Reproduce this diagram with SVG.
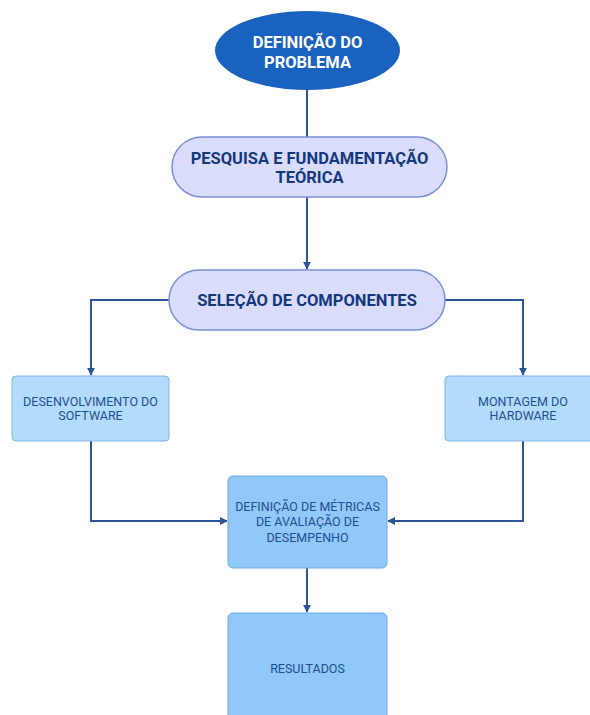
<svg xmlns="http://www.w3.org/2000/svg" width="590" height="715" viewBox="0 0 590 715">
<style>
.conn{fill:none;stroke:#2b5597;stroke-width:2}
.pill{fill:#d9dcfb;stroke:#7a8fd9;stroke-width:1.5}
.box1{fill:#b3dbfb;stroke:#7fb6ec;stroke-width:1}
.box2{fill:#90c8f8;stroke:#6aaae8;stroke-width:1}
.t{font-family:Roboto,"Liberation Sans",sans-serif;text-anchor:middle}
.tb{font-weight:bold;fill:#15387a;font-size:16.5px}
.tn{fill:#1f4f8f;font-size:12.5px}
.tw{font-weight:bold;fill:#ffffff;font-size:16.5px}
</style>
<defs>
<marker id="ah" viewBox="0 0 10 10" refX="9" refY="5" markerWidth="4" markerHeight="4" orient="auto">
<path d="M0,0 L10,5 L0,10 z" fill="#2b5597"/>
</marker>
</defs>
<rect width="590" height="715" fill="#ffffff"/>
<g id="connectors">
<path class="conn" d="M307,90 V137"/>
<path class="conn" d="M307,197 V269" marker-end="url(#ah)"/>
<path class="conn" d="M169,300 H91 V375" marker-end="url(#ah)"/>
<path class="conn" d="M445,300 H523 V375" marker-end="url(#ah)"/>
<path class="conn" d="M91,441 V521 H227" marker-end="url(#ah)"/>
<path class="conn" d="M523,441 V521 H388" marker-end="url(#ah)"/>
<path class="conn" d="M307,568 V612" marker-end="url(#ah)"/>
</g>
<g id="definicao">
<ellipse cx="307.5" cy="50.5" rx="92.5" ry="39.5" fill="#1a62bf"/>
<text class="t tw" x="307.5" y="48">DEFINIÇÃO DO</text>
<text class="t tw" x="307.5" y="68">PROBLEMA</text>
</g>
<g id="pesquisa">
<rect class="pill" x="172" y="137" width="275" height="60" rx="30"/>
<text class="t tb" x="309.5" y="164">PESQUISA E FUNDAMENTAÇÃO</text>
<text class="t tb" x="309.5" y="183">TEÓRICA</text>
</g>
<g id="selecao">
<rect class="pill" x="169" y="270" width="276" height="60" rx="30"/>
<text class="t tb" x="307" y="306">SELEÇÃO DE COMPONENTES</text>
</g>
<g id="software">
<rect class="box1" x="12" y="376" width="157" height="65" rx="4"/>
<text class="t tn" x="90.5" y="405.5">DESENVOLVIMENTO DO</text>
<text class="t tn" x="90.5" y="419.5">SOFTWARE</text>
</g>
<g id="hardware">
<rect class="box1" x="445" y="376" width="150" height="65" rx="4"/>
<text class="t tn" x="523" y="405.5">MONTAGEM DO</text>
<text class="t tn" x="523" y="419.5">HARDWARE</text>
</g>
<g id="metricas">
<rect class="box2" x="228" y="476" width="159" height="92" rx="5"/>
<text class="t tn" x="307.5" y="510.5">DEFINIÇÃO DE MÉTRICAS</text>
<text class="t tn" x="307.5" y="526">DE AVALIAÇÃO DE</text>
<text class="t tn" x="307.5" y="541.5">DESEMPENHO</text>
</g>
<g id="resultados">
<rect class="box2" x="228" y="613" width="159" height="110" rx="5"/>
<text class="t tn" x="307.5" y="672.5">RESULTADOS</text>
</g>
</svg>
